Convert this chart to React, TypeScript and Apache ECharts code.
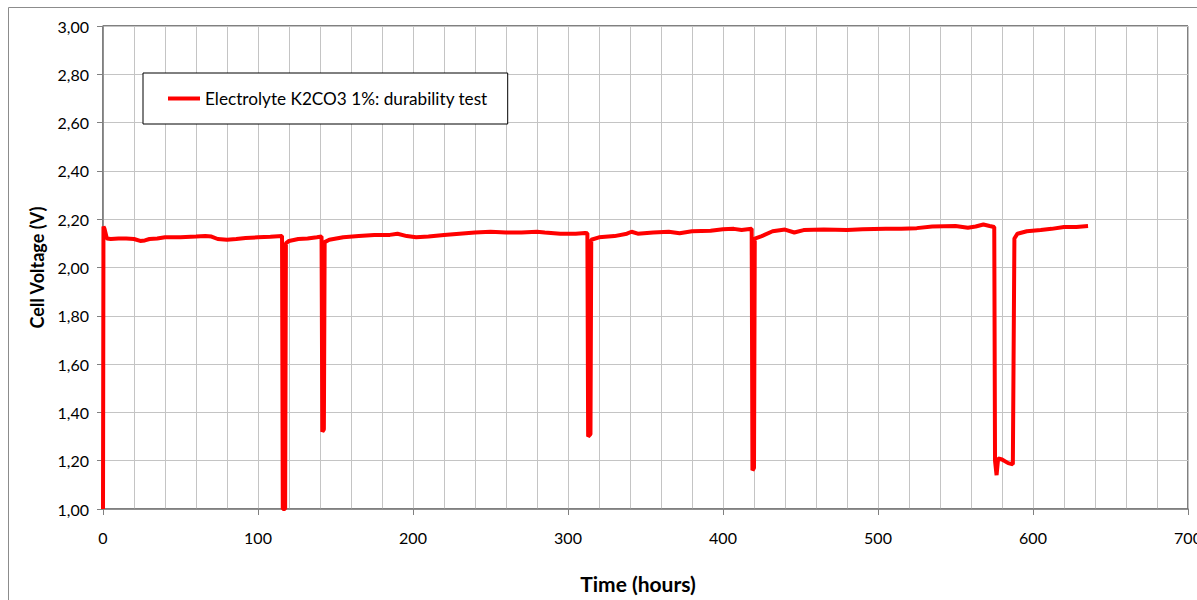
import React, { useEffect, useRef } from "react";
import * as echarts from "echarts";

const seriesName = "Electrolyte K2CO3 1%: durability test";
const xTitle = "Time (hours)";
const yTitle = "Cell Voltage (V)";

const hours: number[] = [
  0, 0.3, 1, 2.5, 5, 10, 15, 20, 24, 27, 30, 35, 40, 50, 60, 66, 70, 74, 80, 86, 92, 100, 108, 115.5,
  116, 117.5, 118, 120, 126, 132, 138, 141, 141.5, 142.5, 143, 146, 155, 165, 175, 185, 190, 196, 202,
  210, 220, 230, 240, 250, 260, 270, 280, 285, 295, 305, 311, 312.5, 313, 314.5, 315, 320, 330, 338,
  341, 345, 355, 365, 372, 380, 392, 400, 407, 412, 418.5, 419, 420, 420.5, 425, 432, 440, 446, 452,
  465, 480, 490, 505, 515, 525, 535, 550, 558, 563, 568, 572, 575, 575.5, 576.5, 577.5, 580, 584, 587,
  588, 590, 596, 605, 612, 620, 628, 635.5,
];

const voltage: number[] = [
  1.0, 2.17, 2.16, 2.12, 2.118, 2.12, 2.12, 2.118, 2.11, 2.112, 2.118, 2.12, 2.125, 2.125, 2.128, 2.13,
  2.128, 2.118, 2.115, 2.118, 2.122, 2.125, 2.127, 2.13,
  1.0, 1.0, 2.1, 2.11, 2.118, 2.12, 2.125, 2.128, 1.32, 1.33, 2.105, 2.115, 2.125, 2.13, 2.135, 2.135,
  2.14, 2.13, 2.125,
  2.128, 2.135, 2.14, 2.145, 2.148, 2.145, 2.145, 2.148, 2.145, 2.14, 2.14, 2.143, 2.142, 1.3, 1.31,
  2.115, 2.125, 2.13, 2.14,
  2.148, 2.14, 2.145, 2.148, 2.142, 2.15, 2.152, 2.158, 2.16, 2.155, 2.16, 1.16, 1.17, 2.12, 2.13,
  2.15, 2.157, 2.145, 2.155,
  2.157, 2.155, 2.158, 2.16, 2.16, 2.163, 2.17, 2.172, 2.165, 2.17, 2.178, 2.172, 2.168, 1.2, 1.14,
  1.21, 1.205, 1.19, 1.185,
  2.12, 2.14, 2.15, 2.155, 2.16, 2.168, 2.168, 2.172,
];

const FONT = "Lato";

export default function App() {
  const ref = useRef<HTMLDivElement>(null);
  useEffect(() => {
    if (!ref.current) return;
    const chart = echarts.init(ref.current, undefined, { renderer: "svg", width: 1197, height: 600 });
    const data = hours.map((h, i) => [h, voltage[i]]);
    const gridLine = { show: true, lineStyle: { color: "#c4c4c4", width: 1 } };
    chart.setOption({
      animation: false,
      backgroundColor: "#ffffff",
      textStyle: { fontFamily: FONT },
      grid: {
        left: 103,
        top: 26,
        width: 1085,
        height: 483,
        show: true,
        borderColor: "#000000",
        borderWidth: 1,
        containLabel: false,
        outerBoundsMode: "none",
      },
      legend: {
        left: 143,
        top: 73,
        orient: "horizontal",
        data: [{ name: seriesName, icon: "rect" }],
        itemWidth: 32,
        itemHeight: 4,
        itemGap: 6,
        padding: [17, 20, 17, 25],
        borderColor: "#000000",
        borderWidth: 1,
        backgroundColor: "#ffffff",
        textStyle: { fontFamily: FONT, fontSize: 17.2, color: "#000000" },
      },
      xAxis: {
        type: "value",
        min: 0,
        max: 700,
        interval: 100,
        name: xTitle,
        nameLocation: "middle",
        nameGap: 64,
        nameTextStyle: { fontFamily: FONT, fontSize: 21, fontWeight: "bold", color: "#000000", padding: [0, 15, 0, 0] },
        axisLine: { show: true, onZero: false, lineStyle: { color: "#808080", width: 1.5 } },
        axisTick: { show: true, inside: false, length: 6, lineStyle: { color: "#808080" } },
        axisLabel: { margin: 20, fontFamily: FONT, fontSize: 16, color: "#000000" },
        splitLine: gridLine,
        minorTick: { show: false, splitNumber: 5 },
        minorSplitLine: gridLine,
      },
      yAxis: {
        type: "value",
        min: 1,
        max: 3,
        interval: 0.2,
        name: yTitle,
        nameLocation: "middle",
        nameGap: 57,
        nameTextStyle: { fontFamily: FONT, fontSize: 18, fontWeight: "bold", color: "#000000" },
        axisLine: { show: true, onZero: false, lineStyle: { color: "#808080", width: 1.5 } },
        axisTick: { show: true, inside: false, length: 6, lineStyle: { color: "#808080" } },
        axisLabel: {
          margin: 14,
          fontFamily: FONT,
          fontSize: 16,
          color: "#000000",
          formatter: (v: number) => v.toFixed(2).replace(".", ","),
        },
        splitLine: gridLine,
      },
      graphic: [
        {
          type: "rect",
          shape: { x: 8.5, y: 7.5, width: 1200, height: 620 },
          style: { fill: "none", stroke: "#8c8c8c", lineWidth: 1 },
          silent: true,
          z: -10,
        },
      ],
      series: [
        {
          name: seriesName,
          type: "line",
          data,
          showSymbol: false,
          symbol: "none",
          clip: true,
          color: "#ff0000",
          lineStyle: { color: "#ff0000", width: 4 },
        },
      ],
    });
    return () => chart.dispose();
  }, []);
  return (
    <div
      ref={ref}
      style={{ position: "fixed", left: 0, top: 0, width: 1197, height: 600, background: "#fff" }}
    />
  );
}
